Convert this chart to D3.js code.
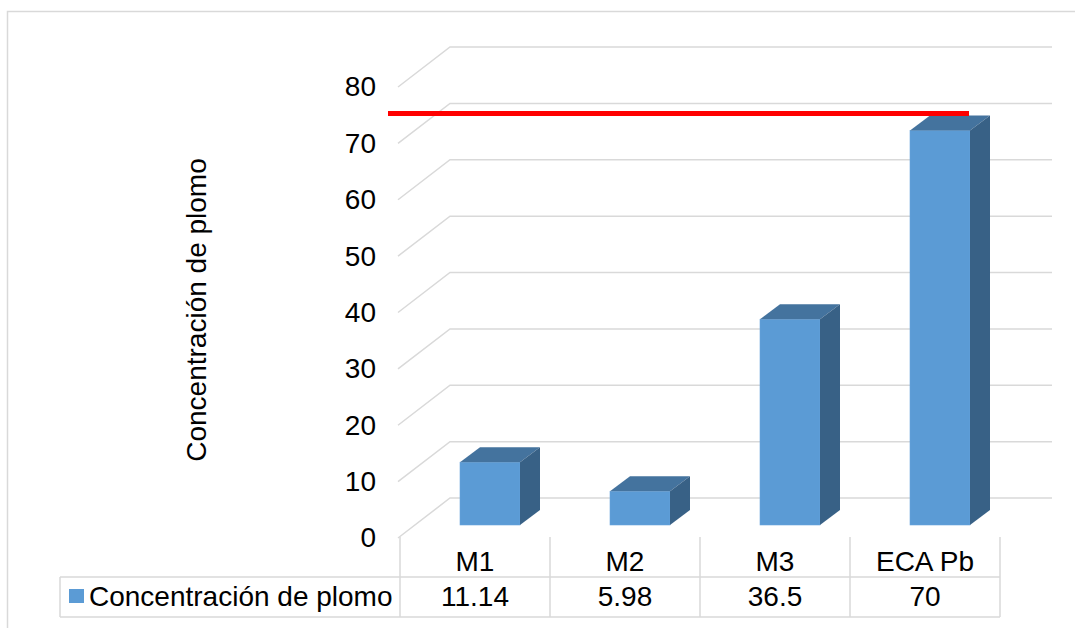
<!DOCTYPE html>
<html>
<head>
<meta charset="utf-8">
<script src="https://cdn.jsdelivr.net/npm/d3@7"></script>
<style>
  body { margin: 0; background: #fff; }
  text { font-family: "Liberation Sans", Arial, sans-serif; fill: #000; }
</style>
</head>
<body>
<div class="chart"></div>
<script>
let categories = ['M1', 'M2', 'M3', 'ECA Pb']
let values = [11.14, 5.98, 36.5, 70]
let seriesName = 'Concentración de plomo'
let yTicks = [0, 10, 20, 30, 40, 50, 60, 70, 80]
let valueLabels = ['11.14', '5.98', '36.5', '70']
let limitValue = 70

var width = 1075, height = 628
var grid = '#d9d9d9'

let svg = d3.select('.chart')
    .append('svg')
    .attr('width', width)
    .attr('height', height)

svg.append('rect')
    .attr('width', width).attr('height', height)
    .attr('fill', '#fff')

// outer chart border
svg.append('rect')
    .attr('x', 7.5).attr('y', 11.5)
    .attr('width', 1090).attr('height', 640)
    .attr('fill', 'none')
    .attr('stroke', grid).attr('stroke-width', 1.5)

// front plane value scale, depth offsets
var yScale = d3.scaleLinear().domain([0, 80]).range([538, 87])
var xScale = d3.scaleBand().domain(categories).range([400, 1000])
var wallDx = 52, wallDy = -40      // full depth of the floor
var barDx = 15, barDy = -13        // front of the bars
var depthDx = 20, depthDy = -15    // bar thickness
var barW = 60

// gridlines: left wall diagonal + back wall
svg.append('g')
    .selectAll('path')
    .data(yTicks)
    .enter()
    .append('path')
    .attr('d', d => {
        let y = yScale(d)
        return `M398,${y} L${398 + wallDx},${y + wallDy} L1052,${y + wallDy}`
    })
    .attr('fill', 'none')
    .attr('stroke', grid)
    .attr('stroke-width', 1.5)

// y axis labels
var yAxis = d3.axisLeft(yScale).tickValues(yTicks).tickSize(0).tickPadding(0)
let ax = svg.append('g')
    .attr('transform', 'translate(376,0)')
    .call(yAxis)
ax.select('.domain').remove()
ax.selectAll('text')
    .style('font-size', '28px')
    .style('font-family', '"Liberation Sans", Arial, sans-serif')
    .attr('fill', '#000')

// bars
let bars = svg.append('g')
    .selectAll('g')
    .data(categories)
    .enter()
    .append('g')

function bx(c) { return xScale(c) + (xScale.bandwidth() - barW) / 2 + barDx }
function byTop(i) { return yScale(values[i]) + barDy }
var yBase = yScale(0) + barDy

bars.append('rect')
    .attr('x', d => bx(d))
    .attr('y', (d, i) => byTop(i))
    .attr('width', barW)
    .attr('height', (d, i) => yBase - byTop(i))
    .attr('fill', '#5b9bd5')
    .attr('stroke', '#6aa6dc')
    .attr('stroke-width', 0.6)

bars.append('path')
    .attr('d', (d, i) => {
        let x = bx(d), y = byTop(i)
        return `M${x},${y} L${x + depthDx},${y + depthDy} L${x + barW + depthDx},${y + depthDy} L${x + barW},${y} Z`
    })
    .attr('fill', '#44739e')

bars.append('path')
    .attr('d', (d, i) => {
        let x = bx(d) + barW, y = byTop(i)
        return `M${x},${y} L${x + depthDx},${y + depthDy} L${x + depthDx},${yBase + depthDy} L${x},${yBase} Z`
    })
    .attr('fill', '#386186')

// red limit line (at the back plane of the bars)
let lastCat = categories[categories.length - 1]
svg.append('line')
    .attr('x1', 388)
    .attr('x2', bx(lastCat) + barW - 1)
    .attr('y1', yScale(limitValue) + barDy + depthDy - 2)
    .attr('y2', yScale(limitValue) + barDy + depthDy - 2)
    .attr('stroke', '#ff0000')
    .attr('stroke-width', 5)

// y axis title
svg.append('text')
    .attr('transform', 'translate(206,310) rotate(-90)')
    .attr('text-anchor', 'middle')
    .style('font-size', '28px')
    .text(seriesName)

// data table
let tbl = svg.append('g')
    .attr('stroke', grid)
    .attr('stroke-width', 1.5)
    .attr('fill', 'none')

let colEdges = categories.map(c => xScale(c)).concat([xScale(lastCat) + xScale.bandwidth()])
tbl.selectAll('line.v')
    .data(colEdges)
    .enter()
    .append('line')
    .attr('x1', d => d).attr('x2', d => d)
    .attr('y1', 537).attr('y2', 617)
tbl.append('line').attr('x1', 60).attr('x2', 60).attr('y1', 577).attr('y2', 617)
tbl.append('line').attr('x1', 60).attr('x2', 1000).attr('y1', 577).attr('y2', 577)
tbl.append('line').attr('x1', 60).attr('x2', 1000).attr('y1', 617).attr('y2', 617)

svg.append('g')
    .selectAll('text')
    .data(categories)
    .enter()
    .append('text')
    .attr('x', d => xScale(d) + xScale.bandwidth() / 2)
    .attr('y', 571)
    .attr('text-anchor', 'middle')
    .style('font-size', '28px')
    .text(d => d)

svg.append('g')
    .selectAll('text')
    .data(categories)
    .enter()
    .append('text')
    .attr('x', d => xScale(d) + xScale.bandwidth() / 2)
    .attr('y', 606)
    .attr('text-anchor', 'middle')
    .style('font-size', '28px')
    .text((d, i) => valueLabels[i])

// legend key in table
svg.append('rect')
    .attr('x', 69).attr('y', 589)
    .attr('width', 15).attr('height', 14)
    .attr('fill', '#5b9bd5')
svg.append('text')
    .attr('x', 89).attr('y', 606)
    .style('font-size', '28px')
    .text(seriesName)
</script>
</body>
</html>
